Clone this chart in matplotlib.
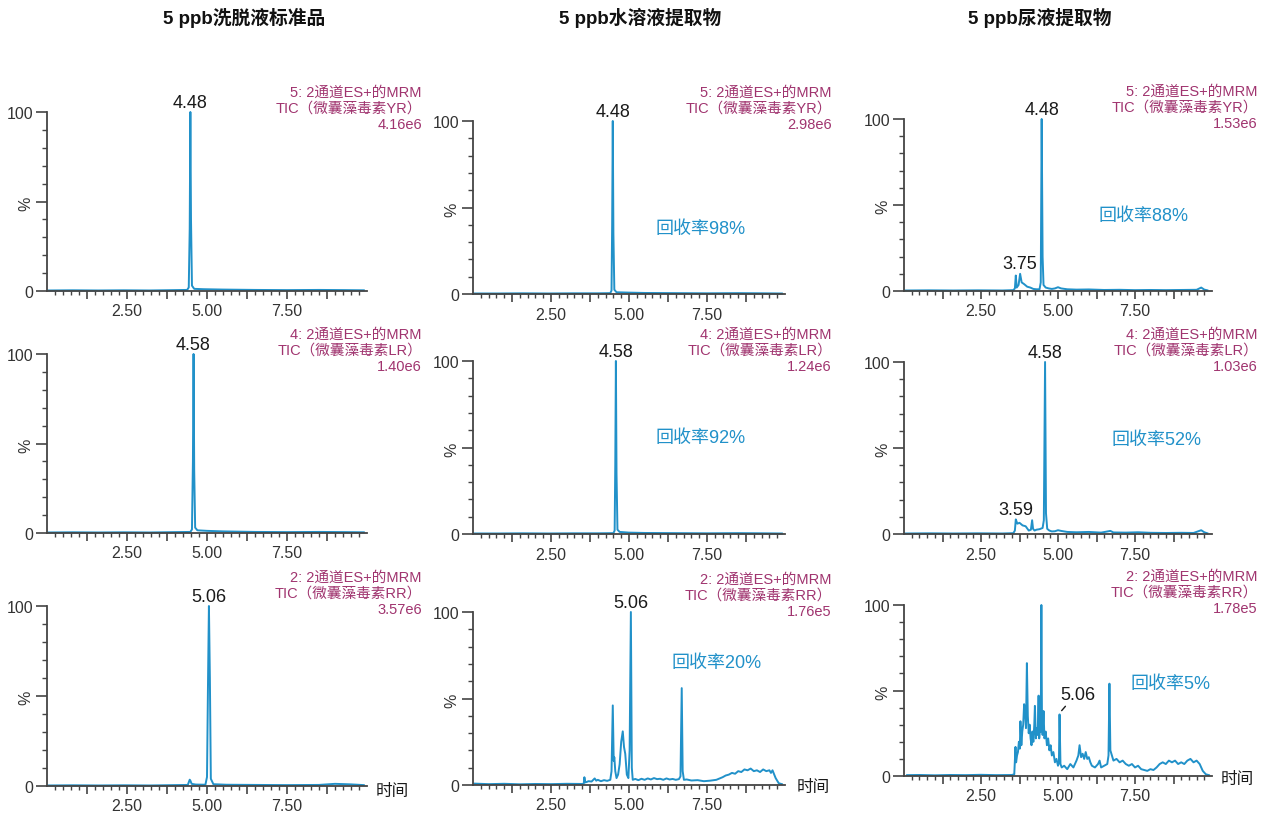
import matplotlib
matplotlib.use("Agg")
import matplotlib.pyplot as plt
from matplotlib.ticker import FixedLocator, FuncFormatter

plt.rcParams['font.family'] = ['Liberation Sans', 'Noto Sans CJK SC', 'DejaVu Sans']

BLUE = '#2191c9'
PURPLE = '#a0346f'
DARK = '#333333'

# column titles
titles = ['5 ppb洗脱液标准品', '5 ppb水溶液提取物', '5 ppb尿液提取物']

# (time, percent) pairs
yr_std = [(0.05, 0.3), (0.8, 0.4), (1.6, 0.3), (2.4, 0.4), (3.2, 0.3), (4.0, 0.5), (4.38, 0.6),
          (4.43, 2), (4.46, 35), (4.48, 100), (4.50, 40), (4.53, 3), (4.6, 1.2), (4.9, 1.0),
          (5.5, 0.8), (6.5, 0.6), (7.5, 0.5), (8.5, 0.6), (9.3, 0.5), (9.9, 0.4)]
lr_std = [(0.05, 0.3), (0.8, 0.4), (1.6, 0.3), (2.4, 0.4), (3.2, 0.3), (4.0, 0.5), (4.48, 0.6),
          (4.53, 2), (4.56, 40), (4.58, 100), (4.60, 35), (4.63, 3), (4.7, 1.5), (5.0, 1.2),
          (5.5, 0.9), (6.5, 0.6), (7.5, 0.5), (8.5, 0.6), (9.3, 0.5), (9.9, 0.4)]
rr_std = [(0.05, 0.3), (0.8, 0.4), (1.6, 0.3), (2.4, 0.4), (3.2, 0.3), (4.0, 0.5), (4.40, 0.6),
          (4.46, 3.5), (4.48, 3.0), (4.52, 1.2), (4.65, 0.8), (4.95, 0.7), (5.00, 5), (5.03, 55),
          (5.06, 100), (5.09, 60), (5.12, 4), (5.2, 1.0), (5.6, 0.7), (6.5, 0.6), (7.5, 0.5),
          (8.5, 0.6), (9.0, 1.2), (9.5, 0.9), (9.9, 0.5)]

yr_water = [(0.05, 0.3), (0.8, 0.3), (1.6, 0.4), (2.4, 0.3), (3.2, 0.4), (4.0, 0.4), (4.40, 0.5),
            (4.44, 2), (4.46, 40), (4.48, 100), (4.50, 35), (4.53, 2.5), (4.6, 1.0), (5.0, 0.8),
            (5.5, 0.6), (6.5, 0.5), (7.5, 0.4), (8.5, 0.5), (9.3, 0.4), (9.9, 0.3)]
lr_water = [(0.05, 0.3), (0.8, 0.3), (1.6, 0.4), (2.4, 0.3), (3.2, 0.4), (4.0, 0.4), (4.50, 0.5),
            (4.54, 2), (4.56, 40), (4.58, 100), (4.60, 35), (4.63, 2.5), (4.7, 1.2), (5.0, 0.8),
            (5.5, 0.6), (6.5, 0.5), (7.5, 0.4), (8.5, 0.5), (9.3, 0.4), (9.9, 0.3)]
rr_water = [(0.05, 0.8), (0.5, 0.5), (1.0, 0.7), (1.5, 0.4), (2.0, 0.6), (2.5, 0.5), (3.0, 0.7),
            (3.5, 0.6), (3.55, 0.8), (3.57, 4.5), (3.6, 1.5), (3.65, 1.8), (3.7, 2.2), (3.8, 2.0),
            (3.9, 3.8), (3.95, 2.5), (4.0, 3.0), (4.1, 2.2), (4.2, 2.8), (4.3, 2.4), (4.4, 3.0),
            (4.44, 8), (4.48, 46), (4.51, 14), (4.53, 16), (4.56, 8), (4.6, 4), (4.65, 6),
            (4.7, 12), (4.75, 25), (4.8, 31), (4.84, 22), (4.88, 18), (4.93, 6), (4.98, 4),
            (5.02, 20), (5.06, 100), (5.09, 10), (5.12, 3), (5.2, 3.5), (5.3, 2.8), (5.4, 3.6),
            (5.5, 3.0), (5.6, 3.8), (5.7, 3.2), (5.8, 4.0), (5.9, 3.4), (6.0, 3.6), (6.1, 3.0),
            (6.2, 3.8), (6.3, 3.2), (6.4, 3.5), (6.5, 3.0), (6.6, 3.4), (6.65, 5), (6.69, 56),
            (6.72, 8), (6.76, 3), (6.85, 3.2), (7.0, 2.6), (7.2, 2.8), (7.4, 2.2), (7.6, 2.5),
            (7.8, 3.0), (8.0, 4.5), (8.1, 5.5), (8.2, 6.0), (8.3, 7.0), (8.4, 6.5), (8.5, 8.0),
            (8.6, 7.5), (8.7, 9.0), (8.8, 8.5), (8.9, 9.5), (9.0, 8.0), (9.1, 8.5), (9.2, 7.5),
            (9.3, 9.0), (9.4, 8.0), (9.5, 8.5), (9.55, 7.0), (9.6, 8.5), (9.7, 4), (9.8, 1.0),
            (9.9, 0.5)]

yr_urine = [(0.05, 0.3), (0.8, 0.4), (1.6, 0.3), (2.4, 0.4), (3.2, 0.3), (3.55, 0.5), (3.60, 1.5),
            (3.63, 9), (3.66, 2), (3.72, 3.5), (3.77, 10), (3.82, 5), (3.9, 4), (4.0, 2.5),
            (4.1, 2), (4.2, 1.2), (4.3, 1.0), (4.4, 1.0), (4.44, 5), (4.47, 100), (4.50, 20),
            (4.53, 3.5), (4.6, 2.0), (4.7, 1.5), (4.8, 1.2), (4.9, 1.5), (5.0, 2.2), (5.1, 1.5),
            (5.3, 1.0), (5.6, 0.8), (6.0, 0.9), (6.5, 0.6), (7.0, 0.7), (7.5, 0.5), (8.0, 0.6),
            (8.5, 0.5), (9.0, 0.6), (9.5, 0.7), (9.65, 2.0), (9.75, 0.8), (9.85, 0.4)]
lr_urine = [(0.05, 0.3), (0.8, 0.4), (1.6, 0.3), (2.4, 0.4), (3.2, 0.3), (3.55, 0.5), (3.60, 2),
            (3.63, 8.5), (3.68, 6), (3.75, 6.5), (3.85, 5), (3.95, 4.5), (4.05, 2), (4.12, 2.5),
            (4.16, 8), (4.19, 3), (4.24, 2), (4.3, 2.5), (4.4, 2.8), (4.5, 3.5), (4.54, 8),
            (4.58, 100), (4.61, 12), (4.65, 3), (4.72, 2), (4.8, 1.5), (4.9, 1.6), (5.0, 2.2),
            (5.1, 1.8), (5.3, 1.2), (5.6, 1.0), (6.0, 1.2), (6.4, 0.8), (6.7, 1.8), (6.8, 0.9),
            (7.2, 0.8), (7.6, 1.0), (8.0, 0.7), (8.5, 0.6), (9.0, 0.7), (9.4, 0.6), (9.65, 2.2),
            (9.75, 1.0), (9.85, 0.4)]
rr_urine = [(0.1, 0.5), (0.5, 0.6), (1.0, 0.4), (1.5, 0.6), (2.0, 0.5), (2.5, 0.7), (3.0, 0.5),
            (3.5, 0.6), (3.58, 1.0), (3.62, 17), (3.64, 8), (3.67, 12), (3.7, 14), (3.73, 20),
            (3.76, 16), (3.78, 32), (3.81, 18), (3.84, 26), (3.87, 30), (3.9, 42), (3.93, 38),
            (3.96, 28), (3.99, 66), (4.02, 35), (4.05, 25), (4.08, 30), (4.11, 22), (4.14, 18),
            (4.17, 26), (4.2, 20), (4.23, 30), (4.25, 41), (4.28, 22), (4.31, 28), (4.34, 24),
            (4.37, 47), (4.39, 22), (4.42, 30), (4.44, 26), (4.46, 100), (4.48, 30), (4.5, 24),
            (4.53, 38), (4.56, 22), (4.6, 26), (4.64, 18), (4.68, 22), (4.72, 15), (4.76, 18),
            (4.8, 12), (4.85, 14), (4.9, 8), (4.95, 10), (5.0, 6), (5.03, 8), (5.05, 36),
            (5.08, 7), (5.12, 5), (5.2, 6), (5.3, 4), (5.4, 7), (5.5, 5), (5.6, 9), (5.66, 12),
            (5.7, 18), (5.75, 11), (5.8, 13), (5.85, 10), (5.9, 14), (5.95, 10), (6.0, 11),
            (6.05, 8), (6.1, 6), (6.2, 5), (6.3, 7), (6.35, 9), (6.4, 5), (6.5, 6), (6.6, 7),
            (6.64, 12), (6.67, 54), (6.7, 15), (6.75, 12), (6.8, 9), (6.9, 10), (7.0, 8),
            (7.1, 9), (7.2, 7), (7.3, 6), (7.4, 7), (7.5, 5), (7.6, 6), (7.7, 4), (7.8, 3.5),
            (7.9, 3), (8.0, 4), (8.1, 3.5), (8.2, 5), (8.3, 7), (8.4, 8), (8.5, 7), (8.6, 9),
            (8.7, 8), (8.8, 9), (8.9, 7), (9.0, 8), (9.1, 7), (9.2, 9), (9.3, 10), (9.4, 8),
            (9.5, 9), (9.6, 7), (9.7, 3), (9.8, 1), (9.9, 0.5)]

# rows: YR, LR, RR ; cols: standard, water, urine
traces = [[yr_std, yr_water, yr_urine],
          [lr_std, lr_water, lr_urine],
          [rr_std, rr_water, rr_urine]]

channels = ['5: 2通道ES+的MRM', '4: 2通道ES+的MRM', '2: 2通道ES+的MRM']
compounds = ['TIC（微囊藻毒素YR）', 'TIC（微囊藻毒素LR）', 'TIC（微囊藻毒素RR）']
scales = [['4.16e6', '2.98e6', '1.53e6'],
          ['1.40e6', '1.24e6', '1.03e6'],
          ['3.57e6', '1.76e5', '1.78e5']]

peak_times = [4.48, 4.58, 5.06]
peak_labels = ['4.48', '4.58', '5.06']

# recovery labels: (row, col, text, t, percent)
recoveries = [(0, 1, '回收率98%', 7.3, 38), (1, 1, '回收率92%', 7.3, 56),
              (2, 1, '回收率20%', 7.8, 71), (0, 2, '回收率88%', 7.77, 44),
              (1, 2, '回收率52%', 8.2, 55), (2, 2, '回收率5%', 8.66, 54)]

# minor peak labels in urine column: (row, text, t, percent)
minor_labels = [(0, '3.75', 3.76, 11), (1, '3.59', 3.62, 9.5)]

W, H = 1270, 820
col_x = [(47, 367), (473, 785), (904, 1212)]
row_y = [[(113, 292), (122, 295), (120, 292)],
         [(355, 534), (362, 535), (363, 535)],
         [(607, 787), (613, 786), (606, 777)]]
title_x = [244, 640, 1040]
note_right = [422, 832, 1258]
note_top = [[93, 93, 92], [335, 335, 335], [578, 580, 577]]
time_lbl = [(392, 792), (813, 788), (1237, 780)]

fig = plt.figure(figsize=(12.7, 8.2), dpi=100)

for c, t in enumerate(titles):
    fig.text(title_x[c] / W, 1 - 18 / H, t, ha='center', va='center',
             fontsize=13.5, fontweight='bold', color='#111111')

for r in range(3):
    for c in range(3):
        x0, x1 = col_x[c]
        y0, y1 = row_y[r][c]
        ax = fig.add_axes([x0 / W, 1 - y1 / H, (x1 - x0) / W, (y1 - y0) / H])
        tt = [p[0] for p in traces[r][c]]
        vv = [p[1] for p in traces[r][c]]
        ax.plot(tt, vv, color=BLUE, lw=1.4, clip_on=False)
        ax.set_xlim(0, 10)
        ax.set_ylim(0, 100)
        for s in ['top', 'right']:
            ax.spines[s].set_visible(False)
        for s in ['left', 'bottom']:
            ax.spines[s].set_color('#444444')
            ax.spines[s].set_linewidth(1.3)

        ax.yaxis.set_major_locator(FixedLocator([0, 50, 100]))
        ax.yaxis.set_minor_locator(FixedLocator([10, 20, 30, 40, 60, 70, 80, 90]))
        ax.set_yticklabels(['0', '%', '100'])
        ax.get_yticklabels()[1].set_rotation(90)
        ax.xaxis.set_major_locator(FixedLocator([1.25, 2.5, 3.75, 5.0, 6.25, 7.5, 8.75]))
        ax.xaxis.set_minor_locator(FixedLocator([k * 0.25 for k in range(1, 40)]))
        ax.xaxis.set_major_formatter(FuncFormatter(
            lambda v, p: '%.2f' % v if abs(v / 2.5 - round(v / 2.5)) < 1e-6 else ''))
        ax.tick_params(axis='y', which='major', length=8, width=1.2, color='#444444',
                       labelsize=11.5, labelcolor=DARK, pad=2)
        ax.tick_params(axis='y', which='minor', length=3.5, width=1.0, color='#444444')
        ax.tick_params(axis='x', which='major', length=6, width=1.2, color='#444444',
                       labelsize=11.5, labelcolor=DARK, pad=3)
        ax.tick_params(axis='x', which='minor', length=3, width=1.0, color='#444444')

        # channel annotation, top right
        for k, line in enumerate([channels[r], compounds[r], scales[r][c]]):
            fig.text(note_right[c] / W, 1 - (note_top[r][c] + 16 * k) / H, line,
                     ha='right', va='center', fontsize=10.5, color=PURPLE)

        ax.annotate(peak_labels[r], xy=(peak_times[r], 100), xytext=(0, 0.5),
                    textcoords='offset points', ha='center', va='bottom',
                    fontsize=13, color='#1a1a1a', annotation_clip=False)

        if r == 2:
            fig.text(time_lbl[c][0] / W, 1 - time_lbl[c][1] / H, '时间', ha='center',
                     va='center', fontsize=12, color='#1a1a1a')

        for rr, cc, txt, xt, yt in recoveries:
            if rr == r and cc == c:
                ax.text(xt, yt, txt, ha='center', va='center', fontsize=13, color=BLUE)

        if c == 2:
            for rr, txt, xt, yt in minor_labels:
                if rr == r:
                    ax.text(xt, yt, txt, ha='center', va='bottom', fontsize=13, color='#1a1a1a')

# 5.06 in the urine RR panel sits on a leader line instead of at the top
fig.axes[-1].texts[0].set_visible(False)
ax = fig.axes[-1]
ax.annotate('', xy=(5.06, 37), xytext=(5.3, 42),
            arrowprops=dict(arrowstyle='-', color='#1a1a1a', lw=1.0))
ax.text(5.08, 42.5, '5.06', ha='left', va='bottom', fontsize=13, color='#1a1a1a')

fig.savefig('out.png', dpi=100)
